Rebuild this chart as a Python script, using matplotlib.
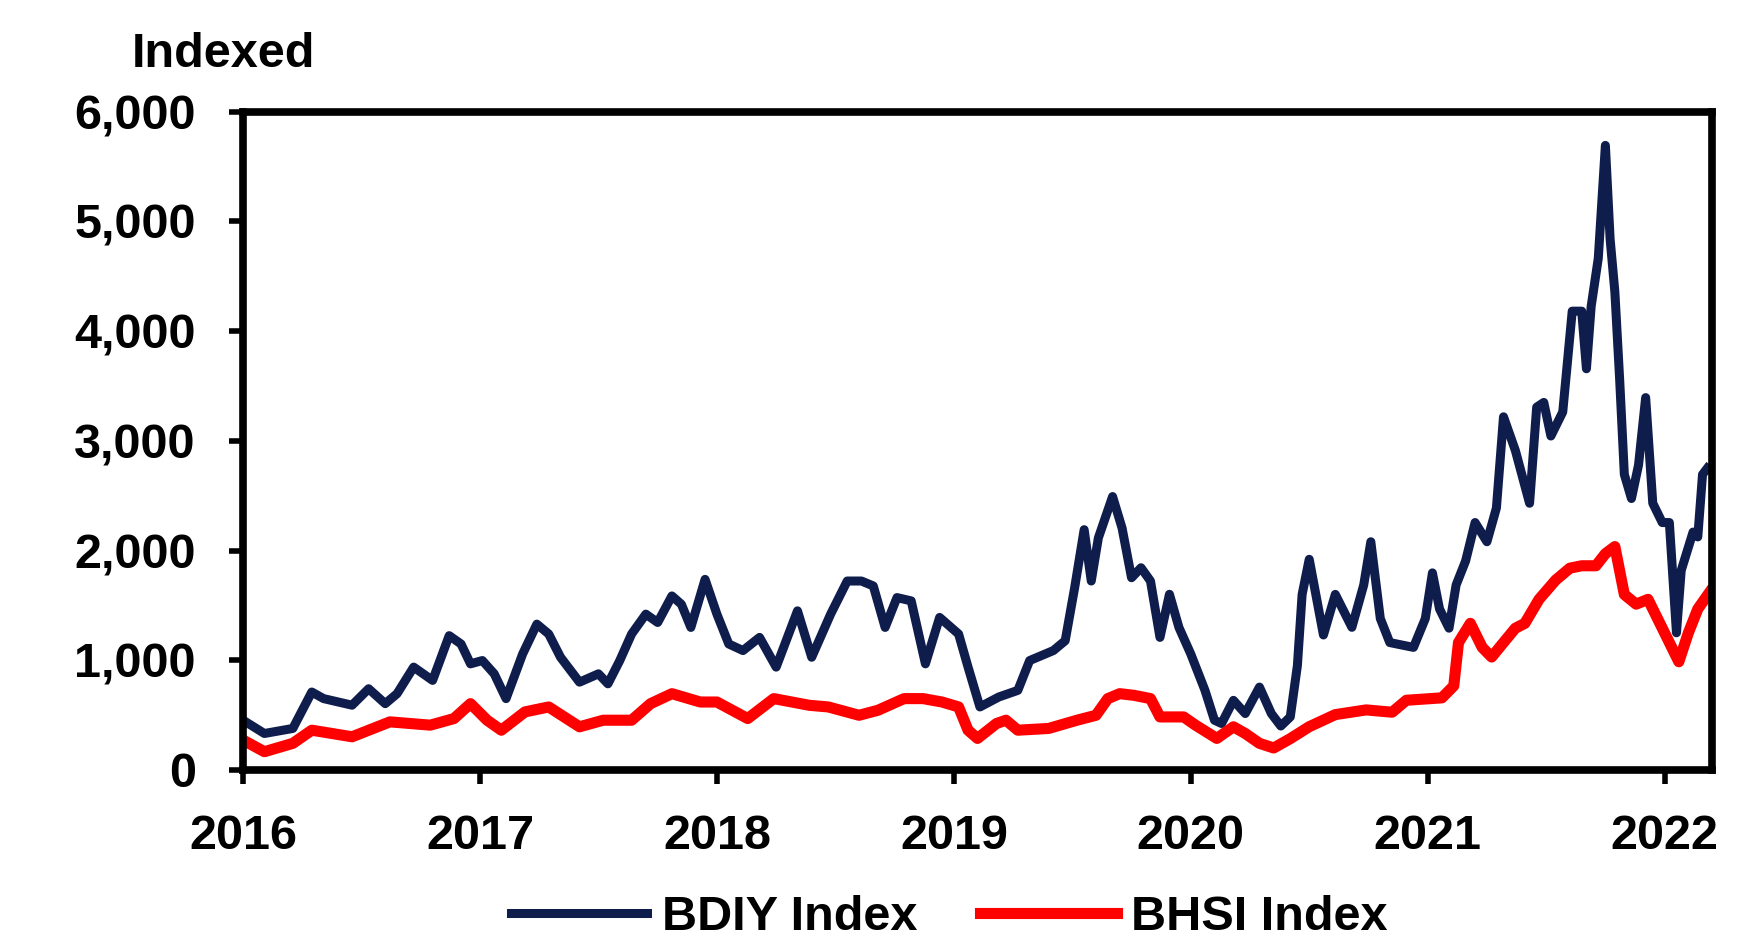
import matplotlib
matplotlib.use("Agg")
import matplotlib.pyplot as plt
from matplotlib.ticker import FuncFormatter

# ---- data (decimal years) ----
bdiy_t = [2016.00, 2016.09, 2016.21, 2016.29, 2016.34, 2016.46, 2016.53, 2016.60, 2016.65, 2016.72,
          2016.80, 2016.87, 2016.92, 2016.96, 2017.01, 2017.06, 2017.11, 2017.18, 2017.24, 2017.29,
          2017.34, 2017.42, 2017.50, 2017.54, 2017.59, 2017.64, 2017.70, 2017.75, 2017.81, 2017.85,
          2017.89, 2017.95, 2018.00, 2018.05, 2018.11, 2018.18, 2018.25, 2018.34, 2018.40, 2018.48,
          2018.55, 2018.61, 2018.66, 2018.71, 2018.76, 2018.82, 2018.88, 2018.94, 2019.02, 2019.06,
          2019.11, 2019.19, 2019.27, 2019.32, 2019.42, 2019.47, 2019.51, 2019.55, 2019.58, 2019.61,
          2019.67, 2019.71, 2019.75, 2019.79, 2019.83, 2019.87, 2019.91, 2019.95, 2020.00, 2020.06,
          2020.10, 2020.13, 2020.18, 2020.23, 2020.29, 2020.34, 2020.38, 2020.42, 2020.45, 2020.47,
          2020.50, 2020.56, 2020.61, 2020.68, 2020.73, 2020.76, 2020.80, 2020.84, 2020.94, 2020.99,
          2021.02, 2021.05, 2021.09, 2021.12, 2021.16, 2021.20, 2021.25, 2021.29, 2021.32, 2021.37,
          2021.43, 2021.46, 2021.49, 2021.52, 2021.57, 2021.61, 2021.65, 2021.67, 2021.69, 2021.72,
          2021.75, 2021.77, 2021.79, 2021.81, 2021.83, 2021.86, 2021.89, 2021.92, 2021.95, 2021.99,
          2022.02, 2022.05, 2022.07, 2022.12, 2022.14, 2022.16, 2022.18]
bdiy_v = [453, 332, 378, 710, 650, 590, 740, 604, 695, 937,
          816, 1224, 1148, 967, 997, 876, 650, 1057, 1329, 1239,
          1027, 800, 876, 785, 997, 1239, 1420, 1344, 1586, 1510,
          1299, 1737, 1420, 1148, 1088, 1208, 937, 1450, 1027, 1420,
          1722, 1722, 1677, 1299, 1571, 1541, 967, 1390, 1239, 937,
          574, 665, 725, 997, 1088, 1178, 1662, 2190, 1722, 2115,
          2492, 2205, 1752, 1843, 1722, 1208, 1601, 1299, 1057, 725,
          453, 423, 634, 514, 755, 514, 400, 483, 950, 1600,
          1920, 1230, 1600, 1300, 1686, 2080, 1380, 1161, 1117, 1380,
          1796, 1467, 1292, 1686, 1905, 2255, 2080, 2387, 3219, 2912,
          2431, 3307, 3350, 3044, 3263, 4182, 4182, 3657, 4226, 4664,
          5693, 4839, 4358, 3569, 2693, 2474, 2781, 3394, 2431, 2255,
          2255, 1250, 1818, 2168, 2124, 2693, 2750]

bhsi_t = [2016.00, 2016.09, 2016.21, 2016.29, 2016.46, 2016.62, 2016.79, 2016.89, 2016.96, 2017.03,
          2017.09, 2017.19, 2017.29, 2017.42, 2017.52, 2017.64, 2017.72, 2017.81, 2017.93, 2018.00,
          2018.13, 2018.24, 2018.39, 2018.47, 2018.60, 2018.68, 2018.79, 2018.87, 2018.95, 2019.02,
          2019.06, 2019.10, 2019.18, 2019.22, 2019.27, 2019.40, 2019.52, 2019.60, 2019.65, 2019.70,
          2019.76, 2019.83, 2019.87, 2019.97, 2020.02, 2020.11, 2020.18, 2020.23, 2020.29, 2020.35,
          2020.42, 2020.50, 2020.61, 2020.74, 2020.85, 2020.91, 2021.06, 2021.11, 2021.13, 2021.18,
          2021.23, 2021.27, 2021.32, 2021.37, 2021.41, 2021.47, 2021.54, 2021.60, 2021.65, 2021.71,
          2021.75, 2021.79, 2021.83, 2021.88, 2021.93, 2021.97, 2022.02, 2022.06, 2022.10, 2022.14,
          2022.19]
bhsi_v = [272, 166, 242, 362, 302, 438, 408, 468, 604, 453,
          362, 529, 574, 393, 453, 453, 604, 695, 619, 619,
          468, 650, 589, 574, 498, 544, 650, 650, 619, 574,
          362, 287, 423, 453, 362, 378, 453, 498, 650, 695,
          680, 650, 483, 483, 408, 287, 393, 332, 242, 200,
          285, 394, 504, 547, 526, 635, 657, 766, 1161, 1336,
          1117, 1029, 1161, 1292, 1336, 1555, 1730, 1839, 1861, 1861,
          1971, 2036, 1599, 1511, 1555, 1380, 1161, 986, 1248, 1467,
          1620]

year_ticks = [2016, 2017, 2018, 2019, 2020, 2021, 2022]
y_ticks = [0, 1000, 2000, 3000, 4000, 5000, 6000]
series_names = ["BDIY Index", "BHSI Index"]

plt.rcParams['font.family'] = ['Liberation Sans', 'DejaVu Sans']
plt.rcParams['font.weight'] = 'bold'

fig = plt.figure(figsize=(17.55, 9.47), dpi=100)
ax = fig.add_axes([0.1385, 0.187, 0.837, 0.695])

navy = "#0f1d4c"
red = "#ff0000"
ax.plot(bdiy_t, bdiy_v, color=navy, lw=6.5, label=series_names[0])
ax.plot(bhsi_t, bhsi_v, color=red, lw=8, label=series_names[1])

ax.set_xlim(2016.0, 2022.2)
ax.set_ylim(0, 6000)
ax.set_xticks(year_ticks)
ax.set_xticklabels([str(y) for y in year_ticks])
ax.set_yticks(y_ticks)
ax.yaxis.set_major_formatter(FuncFormatter(lambda v, p: f"{int(v):,}"))

for s in ax.spines.values():
    s.set_linewidth(5.5)
    s.set_color("black")

ax.tick_params(axis='both', direction='out', length=10, width=4, labelsize=35, colors='black')
ax.tick_params(axis='y', pad=24)
ax.tick_params(axis='x', pad=22)

fig.text(0.075, 0.942, "Indexed", fontsize=35, va='center', ha='left', fontweight='bold')

fig.legend(loc='center', bbox_to_anchor=(0.541, 0.031), ncol=2, frameon=False,
           prop={'size': 35, 'weight': 'bold'}, handlelength=2.8, handletextpad=0.3,
           columnspacing=1.3)

fig.savefig("out.png", dpi=100)
